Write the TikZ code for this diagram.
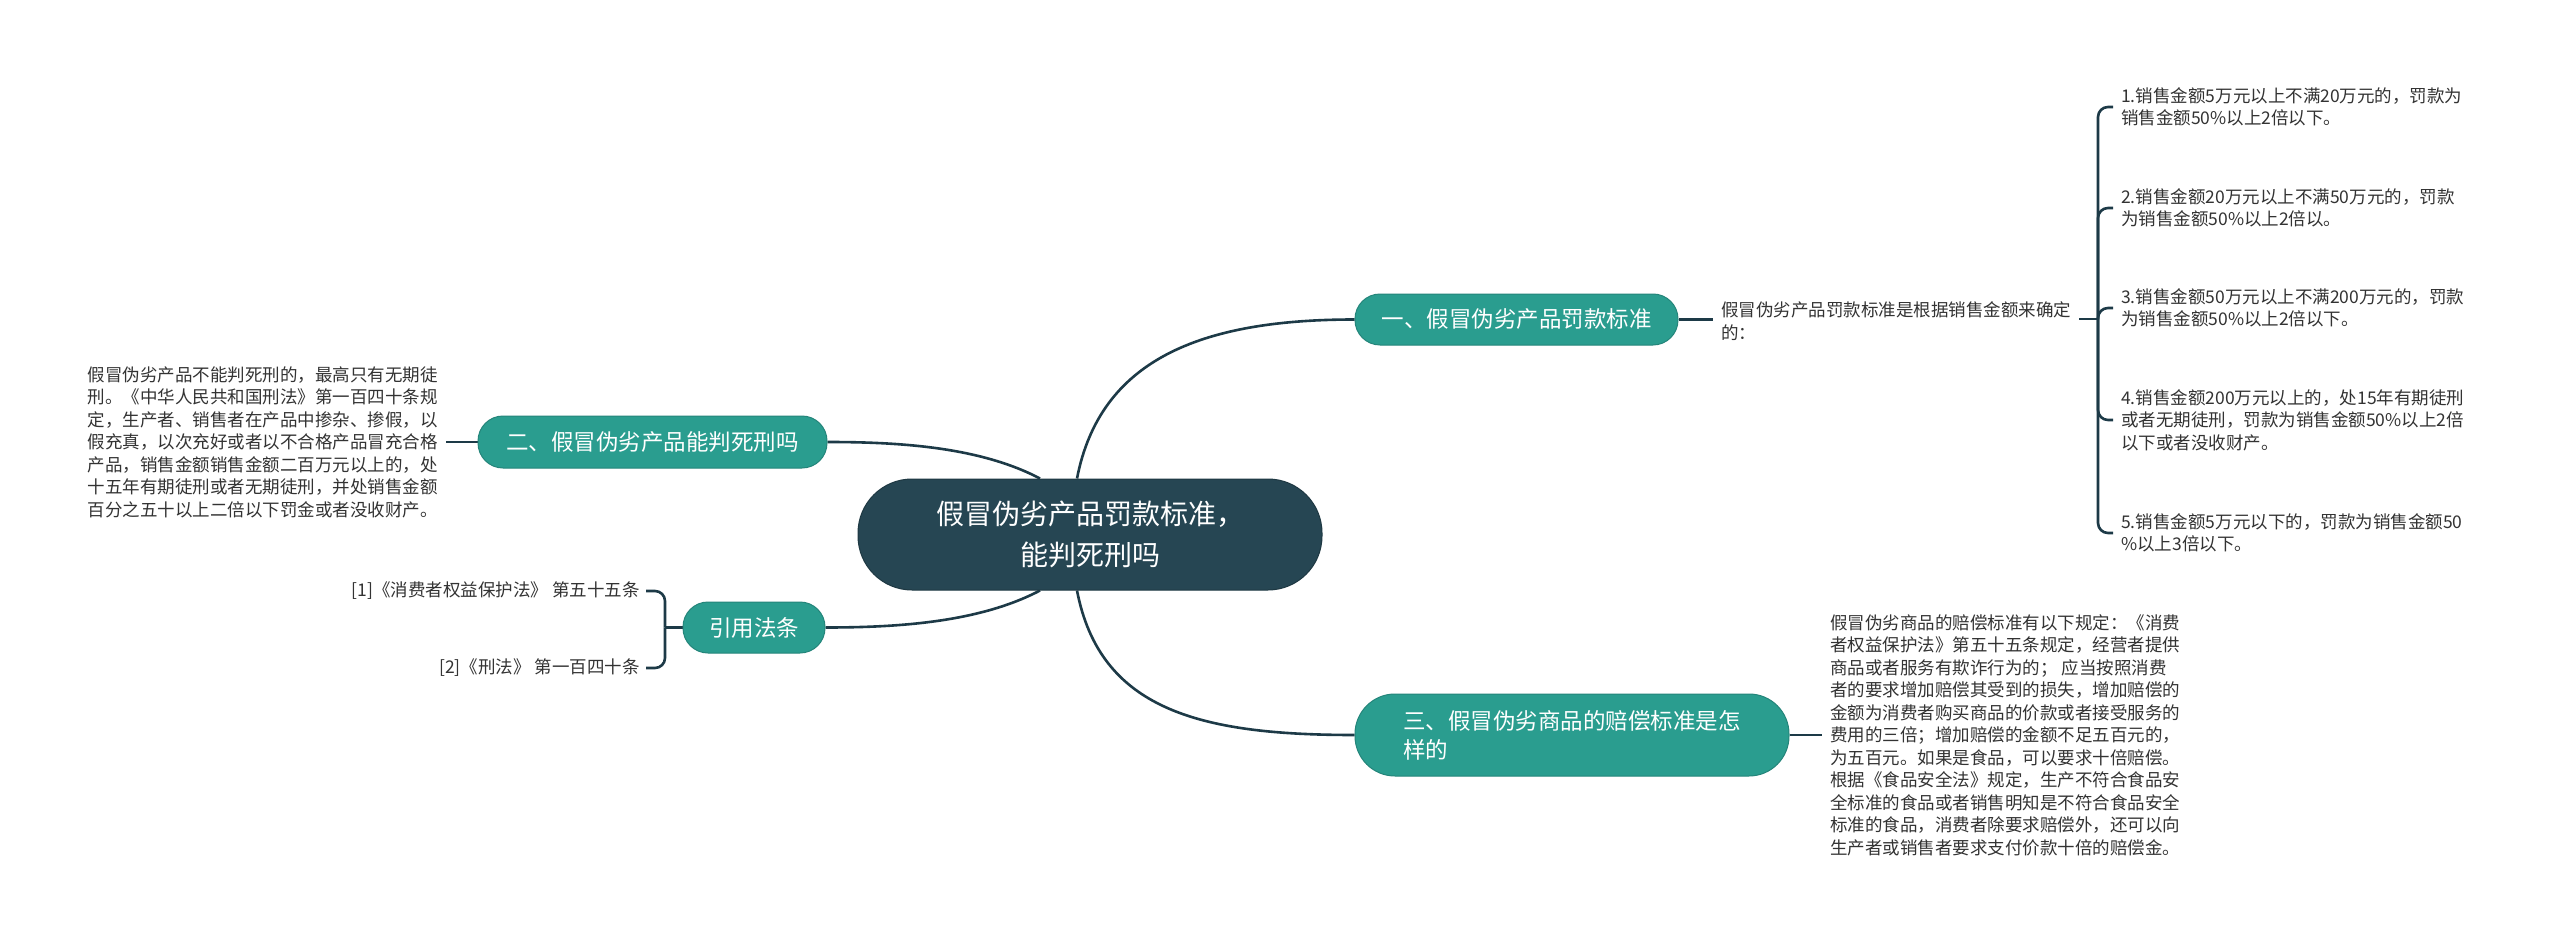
\documentclass[tikz,border=0pt]{standalone}
\usepackage{fontspec}
\setmainfont{Noto Sans CJK SC}
\usetikzlibrary{backgrounds}
\definecolor{tealc}{HTML}{2A9D8F}
\definecolor{rootc}{HTML}{264653}
\definecolor{linec}{HTML}{1D3A47}
\definecolor{txtc}{HTML}{333333}
\begin{document}
\begin{tikzpicture}[x=1pt,y=-1pt,
  rootbox/.style={fill=rootc, draw=rootc!80!black, line width=1pt, rounded corners=54pt,
    minimum width=464pt, minimum height=111pt, text=white, align=center,
    font=\fontsize{28}{41}\selectfont, inner sep=0pt},
  branch/.style={fill=tealc, draw=tealc!85!black, line width=1pt, text=white,
    font=\fontsize{22.5}{29}\selectfont, inner sep=0pt},
  leaf/.style={text=txtc, font=\fontsize{17.5}{22.5}\selectfont, align=left, inner sep=8pt},
  conn/.style={draw=linec, line width=2.6pt}
]
\useasboundingbox (0,0) rectangle (2560,944);

\node[rootbox] (root) at (1090,534.5) {假冒伪劣产品罚款标准，\\能判死刑吗};
\node[branch, minimum width=323pt, minimum height=51pt, rounded corners=25pt] (n1) at (1516.5,319.5) {一、假冒伪劣产品罚款标准};
\node[branch, minimum width=349pt, minimum height=52pt, rounded corners=25pt] (n2) at (652.5,442) {二、假冒伪劣产品能判死刑吗};
\node[branch, minimum width=142pt, minimum height=51pt, rounded corners=25pt] (nr) at (754,627.5) {引用法条};
\node[branch, minimum width=434pt, minimum height=82pt, rounded corners=40pt, align=left] (n3) at (1572,735) {三、假冒伪劣商品的赔偿标准是怎\\样的};

\node[leaf, anchor=west] (t1) at (1713,321) {假冒伪劣产品罚款标准是根据销售金额来确定\\的：};
\node[leaf, anchor=west] (i1) at (2113,107) {1.销售金额5万元以上不满20万元的，罚款为\\销售金额50\%以上2倍以下。};
\node[leaf, anchor=west] (i2) at (2113,208) {2.销售金额20万元以上不满50万元的，罚款\\为销售金额50\%以上2倍以。};
\node[leaf, anchor=west] (i3) at (2113,308) {3.销售金额50万元以上不满200万元的，罚款\\为销售金额50\%以上2倍以下。};
\node[leaf, anchor=west] (i4) at (2113,420) {4.销售金额200万元以上的，处15年有期徒刑\\或者无期徒刑，罚款为销售金额50\%以上2倍\\以下或者没收财产。};
\node[leaf, anchor=west] (i5) at (2113,533) {5.销售金额5万元以下的，罚款为销售金额50\\\%以上3倍以下。};

\node[leaf, anchor=east] (t2) at (446,442) {假冒伪劣产品不能判死刑的，最高只有无期徒\\刑。《中华人民共和国刑法》第一百四十条规\\定，生产者、销售者在产品中掺杂、掺假，以\\假充真，以次充好或者以不合格产品冒充合格\\产品，销售金额销售金额二百万元以上的，处\\十五年有期徒刑或者无期徒刑，并处销售金额\\百分之五十以上二倍以下罚金或者没收财产。};

\node[leaf, anchor=west] (t3) at (1822,735) {假冒伪劣商品的赔偿标准有以下规定：《消费\\者权益保护法》第五十五条规定，经营者提供\\商品或者服务有欺诈行为的； 应当按照消费\\者的要求增加赔偿其受到的损失，增加赔偿的\\金额为消费者购买商品的价款或者接受服务的\\费用的三倍；增加赔偿的金额不足五百元的，\\为五百元。如果是食品，可以要求十倍赔偿。\\根据《食品安全法》规定，生产不符合食品安\\全标准的食品或者销售明知是不符合食品安全\\标准的食品，消费者除要求赔偿外，还可以向\\生产者或销售者要求支付价款十倍的赔偿金。};

\node[leaf, anchor=east, inner sep=6pt] (r1) at (646,591) {[1]《消费者权益保护法》 第五十五条};
\node[leaf, anchor=east, inner sep=6pt] (r2) at (646,668) {[2]《刑法》 第一百四十条};

\coordinate (hubR) at (2098,319);
\coordinate (hubL) at (665,627.5);

\begin{scope}[on background layer]
\fill[white] (0,0) rectangle (2560,944);
\draw[conn] ([xshift=-13pt]root.north) .. controls (1100,360) and (1200,319.5) .. (n1.west);
\draw[conn] ([xshift=-13pt]root.south) .. controls (1100,710) and (1200,735) .. (n3.west);
\draw[conn] ([xshift=-50pt]root.north) .. controls (980,447) and (900,442) .. (n2.east);
\draw[conn] ([xshift=-50pt]root.south) .. controls (980,622) and (900,627.5) .. (nr.east);

\draw[conn] (n1.east) -- (n1.east -| t1.west);
\draw[conn] (t1.east |- hubR) -- (hubR);
\foreach \i in {i1,i2,i3,i4,i5}{
  \draw[conn, rounded corners=10pt] (hubR) |- (\i.west);
}
\draw[conn] (n2.west) -- (n2.west -| t2.east);
\draw[conn] (n3.east) -- (n3.east -| t3.west);
\draw[conn] (nr.west) -- (hubL);
\draw[conn, rounded corners=10pt] (hubL) |- (r1.east);
\draw[conn, rounded corners=10pt] (hubL) |- (r2.east);
\end{scope}
\end{tikzpicture}
\end{document}
